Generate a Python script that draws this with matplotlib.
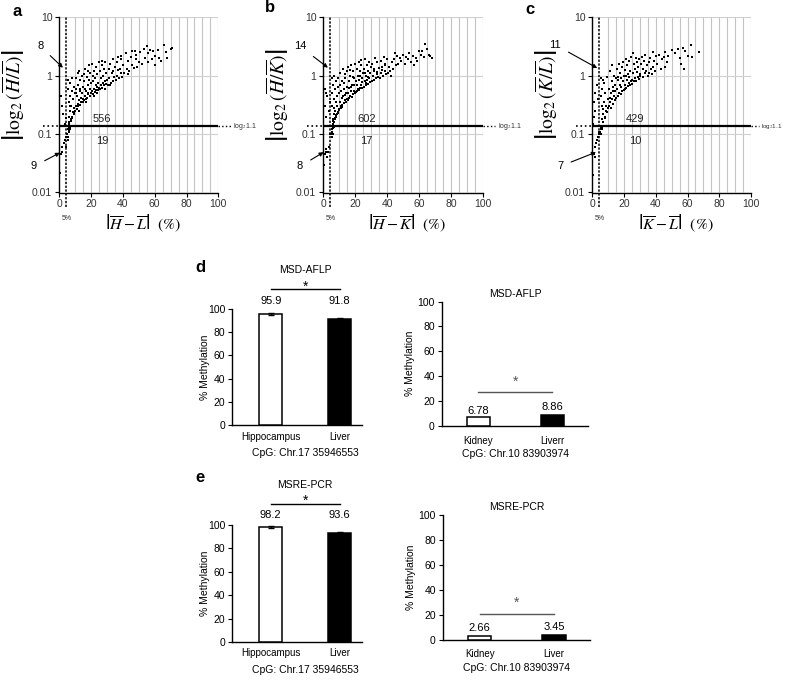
import matplotlib
matplotlib.use('Agg')
import matplotlib.pyplot as plt
from matplotlib.ticker import NullLocator

plt.rcParams['font.family'] = ['Liberation Sans', 'DejaVu Sans']
plt.rcParams['mathtext.fontset'] = 'stix'

# ---------------- data: scatter panels (x = |difference| %, y = |log2 ratio|) -------------
a_x = [0.5, 1, 1.5, 2, 3.0, 3.5, 4, 4.2, 0.8, 1.5, 2.5, 3.5, 4,
       5, 5.5, 6, 5.2, 5.8, 6.5, 7, 5.3, 6.2, 6.8,
       5.2, 5.5, 5.8, 6, 6.2, 6.5, 6.8, 7, 7.2, 7.5, 7.8, 8, 8.2, 8.5, 8.8, 9, 9.2, 9.5, 9.8, 10,
       6.3, 7.3, 8.3, 9.3, 5.6, 6.9,
       10.3, 10.6, 11, 11.2, 11.5, 11.8, 12, 12.3, 12.5, 12.8, 13, 13.3, 13.5, 13.8, 14, 14.3, 14.6,
       15, 10.8, 12.1, 13.1, 14.8, 11.6, 10.2,
       15.3, 15.6, 16, 16.3, 16.6, 17, 17.3, 17.6, 18, 18.3, 18.6, 19, 19.3, 19.6, 20, 16.9, 18.8,
       15.8, 17.8, 19.8, 16.2, 18.1,
       20.3, 20.6, 21, 21.3, 21.6, 22, 22.3, 22.6, 23, 23.3, 23.6, 24, 24.3, 24.6, 25, 21.8, 23.8,
       22.8, 24.8, 20.9,
       25.3, 25.6, 26, 26.3, 26.6, 27, 27.3, 27.6, 28, 28.3, 28.6, 29, 29.3, 29.6, 30, 26.8, 28.9,
       30.5, 31, 31.5, 32, 32.5, 33, 33.5, 34, 34.5, 35, 31.8, 33.8,
       35.5, 36, 36.5, 37, 37.5, 38, 38.5, 39, 39.5, 40, 36.8, 38.8,
       41, 42, 42.5, 43, 44, 45, 45.5, 46, 47, 48, 48.5, 49, 50, 43.5, 47.5,
       51, 52, 53, 54, 55, 55.5, 56, 57, 58, 59, 60, 60.5,
       62, 63, 64, 66, 67, 68, 70, 71]
a_y = [0.022, 0.045, 0.05, 0.06, 0.07, 0.08, 0.06, 0.09, 0.45, 0.3, 0.22, 0.15, 0.19,
       0.1, 0.12, 0.11, 0.08, 0.13, 0.125, 0.13, 0.09, 0.115, 0.12,
       0.85, 0.6, 0.35, 0.2, 0.16, 0.25, 0.45, 0.75, 0.18, 0.3, 0.55, 0.2, 0.9, 0.24, 0.4, 0.22,
       0.65, 0.28, 0.5, 0.25,
       0.15, 0.17, 0.19, 0.23, 0.14, 0.3,
       0.3, 0.9, 0.27, 0.45, 0.33, 0.7, 0.3, 1.2, 0.38, 0.55, 0.32, 0.85, 0.42, 0.36, 1.0, 0.5, 0.4,
       0.65, 0.5, 0.25, 0.6, 0.35, 1.1, 0.6,
       0.38, 0.8, 0.45, 1.3, 0.4, 0.55, 0.95, 0.42, 0.7, 0.48, 1.5, 0.45, 0.6, 1.1, 0.5, 0.36, 0.85,
       1.05, 0.5, 0.75, 0.6, 1.2,
       0.55, 1.6, 0.48, 0.8, 0.6, 1.2, 0.52, 0.9, 0.58, 1.4, 0.65, 1.05, 0.56, 0.75, 1.7, 0.45, 0.5,
       0.7, 0.62, 1.0,
       0.6, 1.2, 0.7, 0.9, 0.62, 1.5, 0.75, 1.0, 0.68, 1.3, 0.8, 1.7, 0.72, 1.1, 0.85, 1.8, 0.6,
       0.7, 1.3, 0.9, 1.6, 0.75, 1.1, 0.8, 1.9, 0.95, 1.4, 0.68, 1.2,
       0.85, 1.7, 1.0, 2.1, 0.9, 1.3, 1.1, 1.9, 0.95, 1.5, 1.25, 2.2,
       1.1, 2.4, 1.3, 1.8, 1.2, 2.1, 1.5, 2.6, 1.35, 1.9, 2.3, 1.4, 1.7, 1.05, 2.7,
       2.5, 1.6, 2.9, 2.0, 3.2, 1.7, 2.4, 2.8, 1.9, 2.6, 1.5, 2.2,
       2.8, 2.0, 1.8, 3.3, 2.5, 2.0, 2.9, 3.0]

b_x = [0.5, 1, 1.5, 2, 2.5, 3, 3.5, 4.5, 0.8, 1.5, 2.5, 3.5, 2, 4, 1,
       5, 5.3, 5.6, 6, 5.2, 6.3, 5.8, 6.6, 7,
       5.2, 5.4, 5.6, 5.8, 6, 6.2, 6.4, 6.6, 6.8, 7, 7.2, 7.4, 7.6, 7.8, 8, 8.2, 8.4, 8.6, 8.8, 9,
       9.2, 9.4, 9.6, 9.8, 10, 6.1, 7.1, 8.1, 9.1, 6.9,
       10.2, 10.5, 10.8, 11, 11.3, 11.6, 11.9, 12.2, 12.5, 12.8, 13.1, 13.4, 13.7, 14, 14.3, 14.6,
       14.9, 10.6, 11.8, 12.9, 13.9, 14.7, 12.0, 13.3,
       15.2, 15.5, 15.8, 16.1, 16.4, 16.7, 17, 17.3, 17.6, 17.9, 18.2, 18.5, 18.8, 19.1, 19.4,
       19.7, 20, 15.9, 17.1, 18.4, 19.5, 16.5,
       20.3, 20.6, 20.9, 21.2, 21.5, 21.8, 22.1, 22.4, 22.7, 23, 23.3, 23.6, 23.9, 24.2, 24.5,
       24.8, 21.0, 22.9, 24.0, 23.5,
       25.3, 25.6, 25.9, 26.2, 26.5, 26.8, 27.1, 27.4, 27.7, 28, 28.3, 28.6, 28.9, 29.2, 29.5,
       29.8, 26.1, 28.1,
       30.3, 30.8, 31.2, 31.7, 32.1, 32.6, 33, 33.5, 34, 34.5, 35, 31.5, 33.8,
       35.5, 36, 36.5, 37, 37.5, 38, 38.5, 39, 39.5, 40, 36.8, 38.8,
       40.5, 41, 42, 43, 44, 45, 45.5, 46, 47, 48, 49, 50, 42.5, 44.5,
       51, 52, 53, 54, 55, 56, 57, 58, 60, 59,
       61, 62, 63, 64, 65, 66, 67, 68]
b_y = [0.03, 0.045, 0.05, 0.055, 0.04, 0.05, 0.06, 0.1, 0.3, 0.2, 0.45, 0.25, 0.5, 0.35, 0.6,
       0.1, 0.12, 0.11, 0.13, 0.09, 0.125, 0.1, 0.13, 0.135,
       0.9, 0.5, 0.3, 0.18, 0.15, 0.7, 0.22, 0.4, 0.16, 1.0, 0.25, 0.6, 0.18, 0.35, 0.8, 0.2, 0.45,
       0.22, 0.3, 0.65, 0.24, 0.9, 0.27, 0.5, 0.26, 0.17, 0.19, 0.21, 0.23, 0.28,
       0.35, 1.1, 0.28, 0.55, 0.3, 0.8, 0.32, 0.45, 1.3, 0.34, 0.6, 0.38, 0.9, 0.36, 0.5, 1.2,
       0.4, 0.7, 0.42, 0.75, 0.46, 0.65, 0.29, 1.05,
       0.38, 1.4, 0.5, 0.8, 0.41, 1.0, 0.45, 0.65, 1.5, 0.44, 0.7, 0.48, 1.2, 0.55, 0.9, 0.5, 1.6,
       0.62, 0.55, 0.95, 0.68, 1.25,
       0.52, 0.8, 1.3, 0.55, 1.0, 0.6, 1.7, 0.58, 0.85, 0.62, 1.2, 0.7, 1.5, 0.62, 0.9, 1.1,
       0.7, 1.0, 0.78, 1.85,
       0.65, 1.3, 0.8, 1.9, 0.68, 1.0, 0.75, 1.5, 0.85, 1.2, 0.72, 1.7, 0.9, 1.1, 0.78, 1.4,
       1.1, 0.95,
       0.8, 1.6, 1.0, 0.85, 1.3, 2.0, 0.9, 1.15, 1.7, 0.95, 1.35, 1.2, 1.05,
       0.9, 1.8, 1.1, 1.4, 1.0, 2.1, 1.2, 1.6, 1.05, 1.9, 1.25, 1.5,
       1.1, 1.4, 1.2, 1.7, 1.3, 2.4, 1.5, 2.2, 1.6, 2.0, 1.8, 2.3, 1.0, 1.9,
       1.6, 2.1, 1.9, 2.4, 1.7, 2.2, 1.5, 2.0, 2.7, 1.8,
       2.3, 2.6, 2.1, 3.5, 2.9, 2.3, 2.2, 2.0]

c_x = [0.5, 1, 1.5, 2, 2.5, 3, 3.5, 4, 4.5, 0.5, 1, 1.5, 2, 3, 3.5, 0.8,
       5, 5.3, 5.6, 6, 6.3, 5.5,
       5.2, 5.5, 5.8, 6, 6.3, 6.6, 6.9, 7.2, 7.5, 7.8, 8.1, 8.4, 8.7, 9, 9.3, 9.6, 9.9, 6.8, 8.2, 7.0,
       10.3, 10.6, 10.9, 11.2, 11.5, 11.8, 12.1, 12.4, 12.7, 13, 13.3, 13.6, 13.9, 14.2, 14.5,
       14.8, 11.0, 12.9, 14.0,
       15.2, 15.5, 15.8, 16.1, 16.4, 16.7, 17, 17.3, 17.6, 17.9, 18.2, 18.5, 18.8, 19.1, 19.4,
       19.7, 20, 16.0, 18.0,
       20.3, 20.6, 20.9, 21.2, 21.5, 21.8, 22.1, 22.4, 22.7, 23, 23.3, 23.6, 23.9, 24.2, 24.5,
       24.8, 21.0, 23.0,
       25.3, 25.6, 25.9, 26.2, 26.5, 26.8, 27.1, 27.4, 27.7, 28, 28.3, 28.6, 28.9, 29.2, 29.5, 29.8,
       30.3, 30.8, 31.2, 31.7, 32.1, 32.6, 33, 33.5, 34, 34.5, 35,
       35.5, 36, 36.5, 37, 37.5, 38, 38.5, 39, 39.5, 40,
       41, 42, 43, 44, 45, 45.5, 46, 47, 48, 50,
       52, 54, 55, 57, 58, 58.5, 60, 62, 63, 67, 56]
c_y = [0.02, 0.045, 0.04, 0.06, 0.07, 0.08, 0.09, 0.1, 0.11, 0.15, 0.35, 0.5, 0.25, 0.7, 0.4, 0.2,
       0.11, 0.12, 0.1, 0.13, 0.12, 0.13,
       0.9, 0.45, 0.3, 0.18, 0.6, 0.22, 0.16, 0.35, 0.75, 0.2, 0.5, 0.25, 0.3, 0.95, 0.24, 0.4,
       0.28, 0.85, 0.19, 0.27,
       0.3, 0.6, 1.2, 0.35, 0.5, 0.28, 0.8, 0.4, 1.5, 0.33, 0.65, 0.45, 1.0, 0.38, 0.55, 0.9,
       0.42, 0.55, 0.7,
       0.42, 1.3, 0.6, 0.45, 0.85, 1.6, 0.5, 0.7, 1.1, 0.48, 0.65, 1.4, 0.55, 0.8, 1.7, 0.58,
       1.0, 0.95, 0.9,
       0.6, 1.25, 0.7, 1.9, 0.62, 0.85, 1.5, 0.66, 1.05, 0.75, 1.8, 0.68, 1.2, 0.8, 2.1, 0.72,
       1.0, 0.95,
       0.85, 2.4, 1.1, 0.8, 1.6, 0.9, 1.3, 2.0, 0.82, 1.15, 1.7, 0.95, 1.4, 0.88, 1.9, 1.05,
       1.0, 1.6, 2.1, 0.95, 1.3, 1.8, 1.1, 2.3, 1.2, 1.5, 1.0,
       1.7, 1.1, 2.0, 1.3, 1.05, 2.5, 1.4, 1.8, 1.2, 2.2,
       1.6, 2.3, 1.3, 1.9, 2.1, 1.4, 2.5, 1.7, 2.2, 2.8,
       2.4, 2.9, 2.0, 3.0, 1.3, 2.6, 2.2, 3.3, 2.1, 2.5, 1.6]

threshold = 0.1375  # log2(1.1)
cut_x = 4.5         # 5% line

# ---------------- data: bar panels ----------------
d1_cats = ['Hippocampus', 'Liver']
d1_vals = [95.9, 91.8]
d1_errs = [1.0, 0.6]
d2_cats = ['Kidney', 'Liverr']
d2_vals = [6.78, 8.86]
e1_cats = ['Hippocampus', 'Liver']
e1_vals = [98.2, 93.6]
e1_errs = [0.6, 0.4]
e2_cats = ['Kidney', 'Liver']
e2_vals = [2.66, 3.45]

W, H = 785, 680
fig = plt.figure(figsize=(W / 100, H / 100), dpi=100)


def add_ax(l, t, r, b):
    return fig.add_axes([l / W, 1 - b / H, (r - l) / W, (b - t) / H])


def ftext(x, y, s, **kw):
    fig.text(x / W, 1 - y / H, s, **kw)


def scatter_panel(rect, xs, ys, letter, letter_xy, ylab, xlab, n_up, n_lo, up_ann, lo_ann,
                  log_fs=5, dot_end=108):
    ax = add_ax(*rect)
    ax.set_yscale('log')
    ax.set_xlim(0, 100)
    ax.set_ylim(0.01, 10)
    ax.vlines(list(range(10, 101, 5)), 0.01, 10, color='#c4c4c4', lw=0.8, zorder=0)
    ax.hlines([0.1, 1, 10], 0, 100, color='#d0d0d0', lw=0.8, zorder=0)
    ax.scatter(xs, ys, s=2.6, marker='s', color='black', linewidths=0, zorder=3)
    ax.plot([0, 100], [threshold, threshold], color='black', lw=1.6, zorder=4)
    ax.plot([-10, 0], [threshold, threshold], color='black', lw=1.2, ls=':', clip_on=False)
    ax.plot([100, dot_end], [threshold, threshold], color='black', lw=1.0, ls=':',
            clip_on=False)
    ax.text(dot_end + 1.3, threshold, r'log$_2$1.1', fontsize=log_fs, va='center', ha='left',
            color='#333333')
    ax.plot([cut_x, cut_x], [0.0056, 10], color='black', lw=1.1, ls=(0, (1.5, 1.0)),
            clip_on=False, zorder=4)
    ax.text(cut_x, 0.0036, '5%', fontsize=5, ha='center', va='center', color='#333333')
    ax.text(27, 0.178, str(n_up), fontsize=8, ha='center', va='center', color='#222222')
    ax.text(27, 0.076, str(n_lo), fontsize=8, ha='center', va='center', color='#222222')
    for (lab, tx, ty, hx, hy) in (up_ann, lo_ann):
        ax.annotate(lab, xy=(hx, hy), xytext=(tx, ty), fontsize=8, ha='center', va='center',
                    annotation_clip=False,
                    arrowprops=dict(arrowstyle='-|>', color='black', lw=0.8,
                                    mutation_scale=6, shrinkA=4, shrinkB=0))
    for s in ('top', 'right'):
        ax.spines[s].set_visible(False)
    for s in ('left', 'bottom'):
        ax.spines[s].set_linewidth(1.0)
    ax.set_xticks([0, 20, 40, 60, 80, 100])
    ax.set_yticks([0.01, 0.1, 1, 10])
    ax.set_yticklabels(['0.01', '0.1', '1', '10'])
    ax.yaxis.set_minor_locator(NullLocator())
    ax.tick_params(labelsize=7.5, length=3, width=0.8, pad=2, labelcolor='#333333')
    l, t, r, b = rect
    ftext(l - 46, 95, ylab, rotation=90, fontsize=14, ha='center', va='center')
    ftext((l + r) / 2 + 4, 223, xlab, fontsize=11.5, ha='center', va='center')
    ftext(letter_xy[0], letter_xy[1], letter, fontsize=12, fontweight='bold',
          ha='center', va='center')
    return ax


scatter_panel((59.3, 17.3, 218.3, 192.5), a_x, a_y, 'a', (17, 11),
              r'$\left|\log_2\left(\overline{H}/\overline{L}\right)\right|$',
              r'$\left|\overline{H}-\overline{L}\right|\ \ (\%)$', 556, 19,
              ('8', -12, 3.2, 2.3, 1.37), ('9', -16, 0.028, 0.4, 0.048))
scatter_panel((323.3, 17.3, 482.7, 192.5), b_x, b_y, 'b', (270, 8),
              r'$\left|\log_2\left(\overline{H}/\overline{K}\right)\right|$',
              r'$\left|\overline{H}-\overline{K}\right|\ \ (\%)$', 602, 17,
              ('14', -14.6, 3.2, 2.9, 1.37), ('8', -14.6, 0.028, 0.2, 0.049))
scatter_panel((592.3, 17.3, 751, 192.5), c_x, c_y, 'c', (530, 9),
              r'$\left|\log_2\left(\overline{K}/\overline{L}\right)\right|$',
              r'$\left|\overline{K}-\overline{L}\right|\ \ (\%)$', 429, 10,
              ('11', -23.5, 3.4, 3.1, 1.35), ('7', -20.3, 0.028, 2.3, 0.049),
              log_fs=4.5, dot_end=105)

BAR_FONT = ['Liberation Sans Narrow', 'Liberation Sans', 'DejaVu Sans']


def bar_panel(rect, xlim, cats, vals, errs, title, title_y, sig_y, star_y, sig_color,
              label_ys, tick_y, cpg, ylab_x, bw):
    ax = add_ax(*rect)
    ax.set_xlim(*xlim)
    ax.set_ylim(0, 100)
    xs = [0, 1]
    ax.bar(xs, vals, width=bw, color=['white', 'black'], edgecolor='black', linewidth=1.1,
           zorder=3)
    if errs is not None:
        ax.errorbar(xs, vals, yerr=errs, fmt='none', ecolor='black', elinewidth=1.0,
                    capsize=2.5, capthick=1.0, zorder=4)
    for s in ('top', 'right'):
        ax.spines[s].set_visible(False)
    ax.spines['left'].set_linewidth(1.0)
    ax.spines['bottom'].set_linewidth(1.0)
    ax.set_yticks([0, 20, 40, 60, 80, 100])
    ax.set_xticks([])
    ax.tick_params(axis='y', labelsize=7.5, length=3, width=0.8, pad=2)
    for lab in ax.get_yticklabels():
        lab.set_family(BAR_FONT)
    kw = dict(ha='center', va='center', clip_on=False, family=BAR_FONT)
    ax.text(0.5, title_y, title, fontsize=7.5, **kw)
    ax.plot([0, 1], [sig_y, sig_y], color=sig_color, lw=1.0, clip_on=False)
    ax.text(0.5, star_y, '*', fontsize=10, color=sig_color, **kw)
    for x, v, ly in zip(xs, vals, label_ys):
        ax.text(x, ly, f'{v:g}', fontsize=8, **kw)
    for x, c in zip(xs, cats):
        ax.text(x, tick_y, c, fontsize=7, **kw)
    l, t, r, b = rect
    cx = l + (0.5 - xlim[0]) / (xlim[1] - xlim[0]) * (r - l)
    ftext(cx, b + 28, cpg, fontsize=7.5, ha='center', va='center', family=BAR_FONT)
    ftext(ylab_x, (t + b) / 2, '% Methylation', fontsize=7.5, rotation=90,
          ha='center', va='center', family=BAR_FONT)
    return ax


bar_panel((232.3, 309, 362, 425), (-0.558, 1.326), d1_cats, d1_vals, d1_errs, 'MSD-AFLP',
          133.6, 117.2, 119.5, 'black', [107, 107], -10, 'CpG: Chr.17 35946553', 205, 0.326)
bar_panel((441.7, 301.7, 588, 425.7), (-0.495, 1.482), d2_cats, d2_vals, None, 'MSD-AFLP',
          106.2, 26.9, 35.5, '#555555', [12.1, 15.3], -12.3, 'CpG: Chr.10 83903974', 410, 0.315)
bar_panel((232.3, 525, 362, 642.3), (-0.558, 1.326), e1_cats, e1_vals, e1_errs, 'MSRE-PCR',
          134.1, 117.9, 120.5, 'black', [108.5, 108.5], -9.1, 'CpG: Chr.17 35946553', 205, 0.326)
bar_panel((442.7, 515, 590, 639.7), (-0.495, 1.482), e2_cats, e2_vals, None, 'MSRE-PCR',
          106.4, 20.4, 29.5, '#555555', [9.4, 10.4], -11.5, 'CpG: Chr.10 83903974', 411, 0.315)

ftext(200, 268, 'd', fontsize=12, fontweight='bold', ha='center', va='center')
ftext(200, 478, 'e', fontsize=12, fontweight='bold', ha='center', va='center')

fig.savefig('out.png', dpi=100)
